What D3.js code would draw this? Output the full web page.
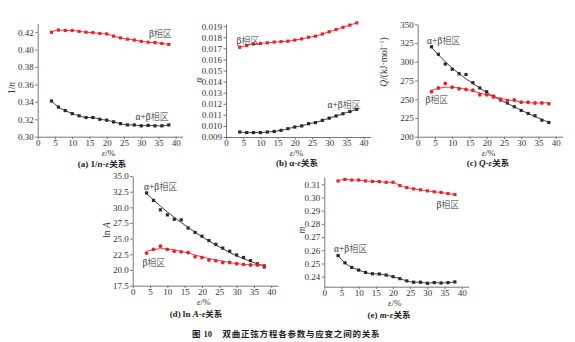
<!DOCTYPE html>
<html>
<head>
<meta charset="utf-8">
<script src="https://cdn.jsdelivr.net/npm/d3@7.9.0/dist/d3.min.js"></script>
<style>
  html, body { margin: 0; padding: 0; background: #fff; }
  svg { display: block; }
  .tick text { font-family: "Liberation Serif", "DejaVu Serif", serif; font-size: 9px; fill: #333; }
  .cjk { font-family: "Noto Sans CJK SC", sans-serif; }
</style>
</head>
<body>
<div id="chart"></div>
<script>
// ---------- data ----------
const strain = [4, 6, 8, 10, 12, 14, 16, 18, 20, 22, 24, 26, 28, 30, 32, 34, 36, 38];
const fitStrain = [4, 8, 12, 16, 20, 24, 28, 32, 36, 38];
const xTicks = [0, 5, 10, 15, 20, 25, 30, 35, 40];

// (a) 1/n
const nBeta = [0.420, 0.4225, 0.422, 0.422, 0.421, 0.420, 0.4195, 0.4185, 0.418, 0.4155, 0.4135, 0.412, 0.411, 0.4095, 0.4085, 0.408, 0.407, 0.406];
const nAlphaBeta = [0.341, 0.334, 0.330, 0.3265, 0.324, 0.322, 0.322, 0.320, 0.319, 0.317, 0.315, 0.3135, 0.3135, 0.3125, 0.313, 0.3125, 0.3125, 0.3135];
const nTicks = [0.30, 0.32, 0.34, 0.36, 0.38, 0.40, 0.42];

// (b) alpha
const alphaBeta = [0.0171, 0.01725, 0.0174, 0.01745, 0.0175, 0.01757, 0.0176, 0.01765, 0.01775, 0.01785, 0.0180, 0.0181, 0.0183, 0.0185, 0.0187, 0.0189, 0.0191, 0.0193];
const alphaAlphaBeta = [0.00945, 0.0094, 0.0094, 0.0094, 0.00945, 0.0095, 0.0096, 0.00975, 0.0099, 0.0100, 0.0102, 0.0103, 0.0105, 0.0107, 0.0109, 0.0111, 0.0113, 0.0115];
const alphaTicks = [0.009, 0.010, 0.011, 0.012, 0.013, 0.014, 0.015, 0.016, 0.017, 0.018, 0.019];

// (c) Q
const qAlphaBeta = [320, 310, 297, 290, 284, 283, 272, 265, 260, 254, 249, 245, 240, 235, 231, 228, 222, 219];
const qBeta = [260, 265, 271, 266, 264, 263, 262, 256, 256, 253, 250, 248, 249, 246, 246, 245, 245, 244];
const qAlphaBetaFit = [319, 300, 284, 271, 259, 249, 240, 231, 223, 219];
const qBetaFit = [262, 266, 265, 261, 256, 251, 248, 245.5, 245, 245.5];
const qTicks = [200, 225, 250, 275, 300, 325, 350];

// (d) ln A
const lnAAlphaBeta = [32.3, 31.1, 29.6, 28.8, 28.1, 28.0, 26.7, 26.0, 25.4, 24.7, 24.1, 23.5, 23.0, 22.4, 22.0, 21.5, 21.0, 20.5];
const lnABeta = [22.7, 23.3, 23.8, 23.3, 23.0, 22.9, 22.8, 22.1, 22.0, 21.6, 21.5, 21.2, 21.2, 21.0, 20.9, 20.8, 20.8, 20.7];
const lnAAlphaBetaFit = [32.2, 30.2, 28.4, 26.8, 25.3, 24.0, 22.8, 21.8, 21.0, 20.6];
const lnABetaFit = [23.0, 23.4, 23.2, 22.7, 22.1, 21.6, 21.2, 20.9, 20.8, 20.8];
const lnATicks = [17.5, 20.0, 22.5, 25.0, 27.5, 30.0, 32.5, 35.0];

// (e) m
const mBeta = [0.3125, 0.3137, 0.3132, 0.3132, 0.3125, 0.3122, 0.3120, 0.3115, 0.3115, 0.3090, 0.3075, 0.3065, 0.3058, 0.3050, 0.3043, 0.3038, 0.3030, 0.3022];
const mAlphaBeta = [0.256, 0.2505, 0.2470, 0.2450, 0.2432, 0.2422, 0.2420, 0.2412, 0.2400, 0.2385, 0.2368, 0.2358, 0.2358, 0.2350, 0.2355, 0.2352, 0.2355, 0.2360];
const mTicks = [0.24, 0.25, 0.26, 0.27, 0.28, 0.29, 0.30, 0.31];

const RED = '#e3262b';
const BLACK = '#2a2a2a';
const W = 575, H = 342;

const svg = d3.select('#chart').append('svg')
  .attr('width', W).attr('height', H)
  .attr('viewBox', `0 0 ${W} ${H}`);

const zip = (xs, ys) => xs.map((x, i) => [x, ys[i]]);

// ---------- panels ----------
const panels = [
  {
    box: { left: 37.7, right: 182.6, top: 23.5, bottom: 136.7 }, capDy: 30,
    yDomain: [0.30, 0.43], yTicks: nTicks, yFmt: d3.format('.2f'),
    yTitle: [['1/', false], ['n', true]], yTitleX: 11.5, yTitleY: 88,
    caption: [['(a) 1/', false], ['n', true], ['-', false], ['ε', true]], capX: 102,
    series: [
      { pts: zip(strain, nBeta), color: RED, shape: 'square', label: 'β相区', lx: 149, ly: 37 },
      { pts: zip(strain, nAlphaBeta), color: BLACK, shape: 'square', label: 'α+β相区', lx: 135.5, ly: 120 },
    ],
  },
  {
    box: { left: 226, right: 370.5, top: 24, bottom: 137 }, capDy: 28.5,
    yDomain: [0.009, 0.0192], yTicks: alphaTicks, yFmt: d3.format('.3f'),
    yTitle: [['α', true]], yTitleX: 198.5, yTitleY: 80,
    caption: [['(b) α-', false], ['ε', true]], capX: 297,
    series: [
      { pts: zip(strain, alphaBeta), color: RED, shape: 'square', label: 'β相区', lx: 236.5, ly: 44 },
      { pts: zip(strain, alphaAlphaBeta), color: BLACK, shape: 'square', label: 'α+β相区', lx: 327.5, ly: 107.5 },
    ],
  },
  {
    box: { left: 417.7, right: 562.6, top: 24.3, bottom: 136.7 }, capDy: 28.8,
    yDomain: [200, 350], yTicks: qTicks, yFmt: d3.format('d'),
    yTitle: [['Q', true], ['/(kJ·mol', false], ['−1', false, true], [')', false]], yTitleX: 384, yTitleY: 62,
    caption: [['(c) ', false], ['Q', true], ['-', false], ['ε', true]], capX: 488,
    series: [
      { pts: zip(strain, qAlphaBeta), fit: zip(fitStrain, qAlphaBetaFit), color: BLACK, shape: 'square', label: 'α+β相区', lx: 427, ly: 44 },
      { pts: zip(strain, qBeta), fit: zip(fitStrain, qBetaFit), color: RED, shape: 'circle', label: 'β相区', lx: 425.5, ly: 103 },
    ],
  },
  {
    box: { left: 132.7, right: 278.2, top: 176, bottom: 285.7 }, capDy: 31.5,
    yDomain: [17.5, 35], yTicks: lnATicks, yFmt: d3.format('.1f'),
    yTitle: [['ln ', false], ['A', true]], yTitleX: 107, yTitleY: 230,
    caption: [['(d) ln ', false], ['A', true], ['-', false], ['ε', true]], capX: 196,
    series: [
      { pts: zip(strain, lnAAlphaBeta), fit: zip(fitStrain, lnAAlphaBetaFit), color: BLACK, shape: 'square', label: 'α+β相区', lx: 144, ly: 190 },
      { pts: zip(strain, lnABeta), fit: zip(fitStrain, lnABetaFit), color: RED, shape: 'circle', label: 'β相区', lx: 142.5, ly: 266 },
    ],
  },
  {
    box: { left: 324.3, right: 468.6, top: 177, bottom: 286.7 }, capDy: 31,
    yDomain: [0.2324, 0.3155], yTicks: mTicks, yFmt: d3.format('.2f'),
    yTitle: [['m', true]], yTitleX: 301.5, yTitleY: 230,
    caption: [['(e) ', false], ['m', true], ['-', false], ['ε', true]], capX: 389,
    series: [
      { pts: zip(strain, mBeta), color: RED, shape: 'square', label: 'β相区', lx: 436.5, ly: 208 },
      { pts: zip(strain, mAlphaBeta), color: BLACK, shape: 'square', label: 'α+β相区', lx: 334, ly: 252 },
    ],
  },
];

function addRich(sel, parts) {
  for (const [txt, ital, sup] of parts) {
    const t = sel.append('tspan').text(txt);
    if (ital) t.attr('font-style', 'italic');
    if (sup) t.attr('font-size', '0.7em').attr('baseline-shift', 'super');
  }
}

for (const p of panels) {
  const { box } = p;
  const x = d3.scaleLinear().domain([0, 42]).range([box.left, box.right]);
  const y = d3.scaleLinear().domain(p.yDomain).range([box.bottom, box.top]);
  const g = svg.append('g');

  // axes
  const xAxis = g.append('g')
    .attr('transform', `translate(0,${box.bottom})`)
    .call(d3.axisBottom(x).tickValues(xTicks).tickSize(2.5).tickSizeOuter(0).tickPadding(0.5));
  const yAxis = g.append('g')
    .attr('transform', `translate(${box.left},0)`)
    .call(d3.axisLeft(y).tickValues(p.yTicks).tickFormat(p.yFmt).tickSize(2.5).tickSizeOuter(0).tickPadding(1.5));
  for (const ax of [xAxis, yAxis]) {
    ax.select('.domain').attr('stroke', '#777').attr('stroke-width', 1);
    ax.selectAll('.tick line').attr('stroke', '#777');
  }

  // x title
  g.append('text')
    .attr('x', x(20.5)).attr('y', box.bottom + 18.8)
    .attr('text-anchor', 'middle')
    .attr('font-family', '"Liberation Serif", serif').attr('font-size', 9).attr('fill', '#333')
    .call(addRich, [['ε', true], ['/%', false]]);

  // y title
  g.append('text')
    .attr('transform', `translate(${p.yTitleX},${p.yTitleY}) rotate(-90)`)
    .attr('text-anchor', 'middle').attr('dy', '0.35em')
    .attr('font-family', '"Liberation Serif", serif').attr('font-size', 9.5).attr('fill', '#333')
    .call(addRich, p.yTitle);

  // caption
  const cap = g.append('text')
    .attr('x', p.capX).attr('y', box.bottom + p.capDy)
    .attr('text-anchor', 'middle')
    .attr('font-family', '"Liberation Serif", serif').attr('font-weight', 'bold')
    .attr('font-size', 9).attr('fill', '#222');
  addRich(cap, p.caption);
  cap.append('tspan').attr('class', 'cjk').attr('font-size', 8.5).text('关系');

  // series
  for (const s of p.series) {
    const line = d3.line().x(d => x(d[0])).y(d => y(d[1]))
      .curve(s.fit ? d3.curveNatural : d3.curveMonotoneX);
    g.append('path')
      .datum(s.fit || s.pts)
      .attr('fill', 'none').attr('stroke', s.color).attr('stroke-width', 0.9)
      .attr('d', line);

    if (s.shape === 'square') {
      g.selectAll(null).data(s.pts).join('rect')
        .attr('x', d => x(d[0]) - 1.6).attr('y', d => y(d[1]) - 1.6)
        .attr('width', 3.2).attr('height', 3.2)
        .attr('fill', s.color);
    } else {
      g.selectAll(null).data(s.pts).join('circle')
        .attr('cx', d => x(d[0])).attr('cy', d => y(d[1]))
        .attr('r', 1.9).attr('fill', s.color);
    }

    g.append('text')
      .attr('x', s.lx).attr('y', s.ly)
      .attr('font-family', '"Liberation Serif", "Noto Sans CJK SC", serif')
      .attr('font-size', 9.5).attr('fill', '#333')
      .call(sel => {
        const m = s.label.match(/^(.*?)(相区)$/);
        sel.append('tspan').text(m[1]);
        sel.append('tspan').attr('class', 'cjk').attr('font-size', 9).attr('font-weight', 300).text(m[2]);
      });
  }
}

// figure caption
const fig = svg.append('text')
  .attr('x', 192).attr('y', 337)
  .attr('font-size', 8.5).attr('font-weight', 'bold').attr('fill', '#222');
fig.append('tspan').attr('class', 'cjk').text('图');
fig.append('tspan').attr('dx', 3).attr('font-family', '"Liberation Serif", serif').text('10');
fig.append('tspan').attr('x', 222.5).attr('class', 'cjk').attr('letter-spacing', 0.78)
  .text('双曲正弦方程各参数与应变之间的关系');
</script>
</body>
</html>
